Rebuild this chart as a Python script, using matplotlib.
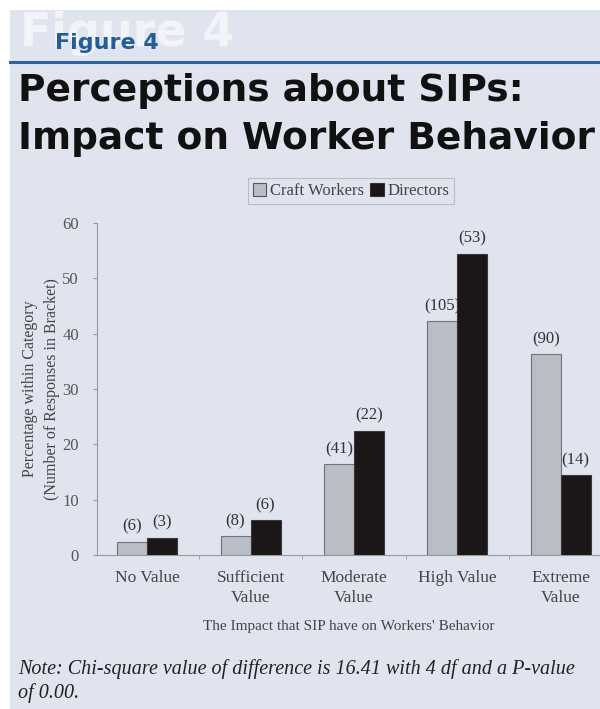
import numpy as np
import matplotlib
matplotlib.use("Agg")
import matplotlib.pyplot as plt
from matplotlib.patches import Rectangle, Patch
from matplotlib.lines import Line2D

# data
categories = ["No Value", "Sufficient\nValue", "Moderate\nValue", "High Value", "Extreme\nValue"]
craft_pct = [2.4, 3.4, 16.4, 42.2, 36.3]
director_pct = [3.1, 6.3, 22.5, 54.4, 14.4]
craft_n = [6, 8, 41, 105, 90]
director_n = [3, 6, 22, 53, 14]

W, H = 600, 709
bg = "#dfe4ee"
serif = ["Liberation Serif", "DejaVu Serif"]

fig = plt.figure(figsize=(W / 100, H / 100), dpi=100, facecolor="white")

# page background and header decoration
fig.add_artist(Rectangle((10 / W, 0), 1 - 10 / W, 1 - 10 / H, transform=fig.transFigure,
                         facecolor=bg, edgecolor="none", zorder=0))
fig.add_artist(Line2D([10 / W, 1], [1 - 62 / H, 1 - 62 / H], transform=fig.transFigure,
                      color="#2b63a0", lw=2.2, zorder=1))
fig.text(20 / W, 1 - 46 / H, "Figure 4", fontsize=33, fontweight="bold", color="white",
         alpha=0.6, family="DejaVu Sans", va="baseline", ha="left", zorder=1)
fig.text(55 / W, 1 - 49 / H, "Figure 4", fontsize=16, fontweight="bold", color="#1f5d9e",
         family="DejaVu Sans", va="baseline", ha="left", zorder=2)
fig.text(18 / W, 1 - 101 / H, "Perceptions about SIPs:", fontsize=27, fontweight="bold",
         color="#111111", family="DejaVu Sans", va="baseline", ha="left")
fig.text(18 / W, 1 - 149 / H, "Impact on Worker Behavior", fontsize=27, fontweight="bold",
         color="#111111", family="DejaVu Sans", va="baseline", ha="left")

# chart
ax = fig.add_axes([97 / W, 1 - 555 / H, 1 - 97 / W, (555 - 223) / H])
ax.set_facecolor(bg)
x = np.arange(len(categories))
bw = 0.29
ax.bar(x - bw / 2, craft_pct, bw, color="#b9bdc5", edgecolor="#6f7278", lw=0.8,
       label="Craft Workers", zorder=3)
ax.bar(x + bw / 2, director_pct, bw, color="#1b1717", edgecolor="#3a3a3a", lw=0.8,
       label="Directors", zorder=3)
for xi, v, n in zip(x - bw / 2, craft_pct, craft_n):
    ax.text(xi, v + 1.3, f"({n})", ha="center", va="bottom", fontsize=12, family=serif,
            color="#333333", zorder=2)
for xi, v, n in zip(x + bw / 2, director_pct, director_n):
    ax.text(xi, v + 1.3, f"({n})", ha="center", va="bottom", fontsize=12, family=serif,
            color="#333333", zorder=2)

ax.set_xlim(-0.485, 4.38)
ax.set_ylim(0, 60)
ax.set_yticks(range(0, 61, 10))
ax.set_xticks(x)
ax.set_xticklabels(categories, fontsize=12.5, family=serif, color="#444444", linespacing=1.3)
ax.set_xticks(x[:-1] + 0.5, minor=True)
ax.tick_params(axis="x", which="major", length=0, pad=11)
ax.tick_params(axis="x", which="minor", length=3, color="#999999")
ax.tick_params(axis="y", length=3, color="#999999", labelcolor="#555555", labelsize=12, pad=10)
for lab in ax.get_yticklabels():
    lab.set_family(serif)
for s in ["top", "right"]:
    ax.spines[s].set_visible(False)
for s in ["left", "bottom"]:
    ax.spines[s].set_color("#999999")
    ax.spines[s].set_linewidth(0.8)

ax.set_ylabel("Percentage within Category\n(Number of Responses in Bracket)", fontsize=11.5,
              family=serif, color="#444444", linespacing=1.5)
ax.yaxis.set_label_coords(-(97 - 60) / (W - 97), 0.5)
ax.set_xlabel("The Impact that SIP have on Workers' Behavior", fontsize=11, family=serif,
              color="#444444")
ax.xaxis.set_label_coords(0.5, -(620 - 555) / (555 - 223))

handles = [Patch(facecolor="#b9bdc5", edgecolor="#555555", lw=0.8),
           Patch(facecolor="#1b1717", edgecolor="#333333", lw=0.8)]
leg = fig.legend(handles, ["Craft Workers", "Directors"], loc="center",
                 bbox_to_anchor=(351 / W, 1 - 191 / H), ncol=2, frameon=True, fancybox=False,
                 prop={"family": serif, "size": 12}, handlelength=0.8, handleheight=0.8,
                 handletextpad=0.2, columnspacing=0.4, borderpad=0.3, labelcolor="#444444")
leg.get_frame().set_facecolor(bg)
leg.get_frame().set_edgecolor("#b0b4bc")
leg.get_frame().set_linewidth(0.8)

fig.text(18 / W, 1 - 674 / H, "Note: Chi-square value of difference is 16.41 with 4 df and a P-value",
         fontsize=14.5, style="italic", family=serif, color="#222222", va="baseline")
fig.text(18 / W, 1 - 698 / H, "of 0.00.", fontsize=14.5, style="italic", family=serif,
         color="#222222", va="baseline")

fig.savefig("out.png", dpi=100, facecolor="white")
